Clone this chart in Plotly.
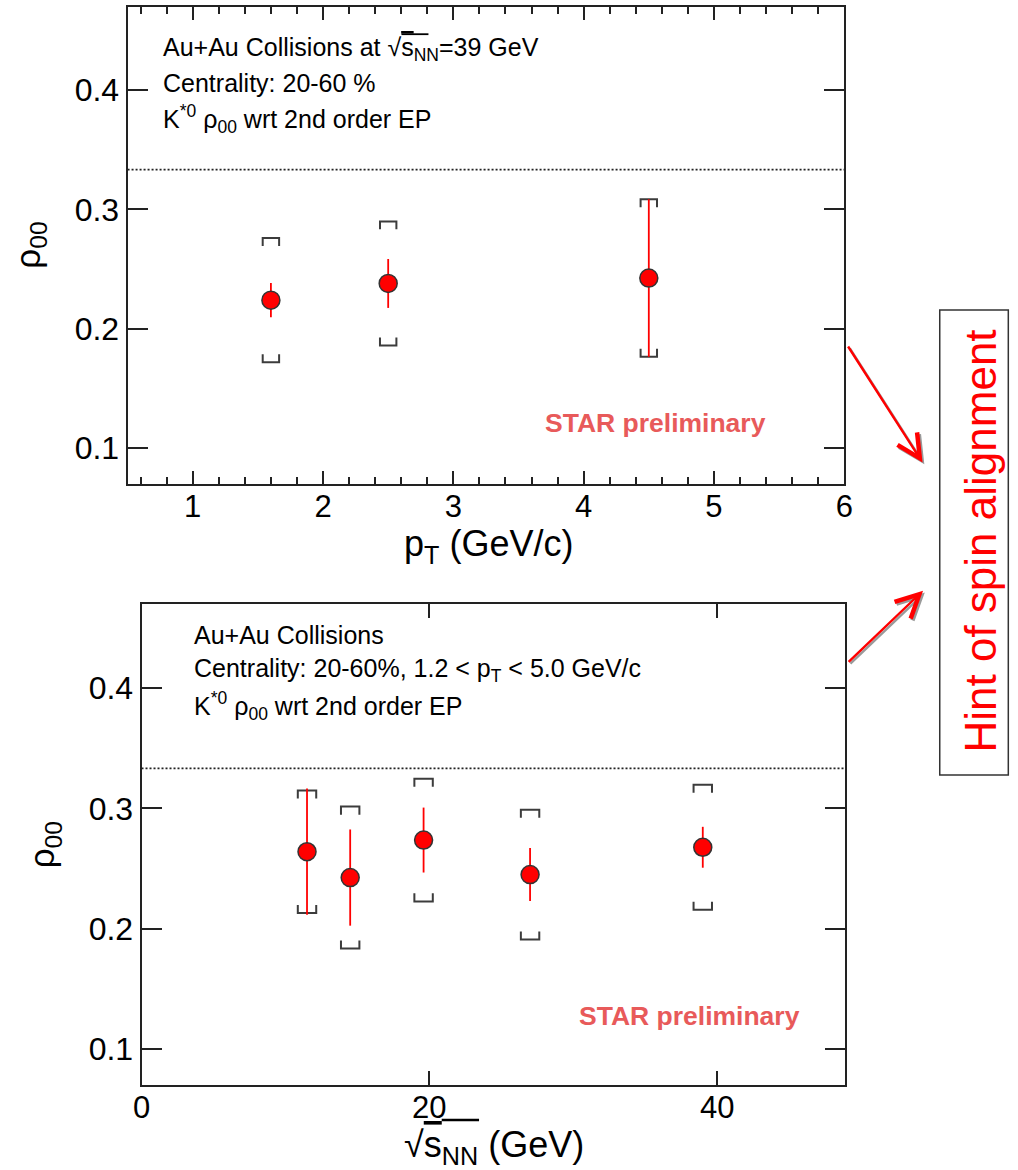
import plotly.graph_objects as go

W, H = 1018, 1170

# rho_00 of K*0 versus transverse momentum, Au+Au at 39 GeV
pt = [1.6, 2.5, 4.5]
rho_pt = [0.224, 0.238, 0.2425]
stat_pt = [0.0143, 0.0205, 0.066]
sys_pt = [0.052, 0.052, 0.066]

# rho_00 of K*0 versus collision energy
energy = [11.5, 14.5, 19.6, 27.0, 39.0]
rho_e = [0.264, 0.2425, 0.2737, 0.245, 0.2677]
stat_e = [0.0525, 0.040, 0.027, 0.022, 0.017]
sys_e = [0.051, 0.059, 0.051, 0.054, 0.052]

rho_ticks = [0.1, 0.2, 0.3, 0.4]
pt_ticks = [1, 2, 3, 4, 5, 6]
energy_ticks = [0, 20, 40]
no_alignment = 1.0 / 3.0

FONT = "Liberation Sans, Arial, Helvetica, sans-serif"
FRAME = "#222222"
RED = "#ff0000"
STAR_RED = "#e85a5a"
SYS_GREY = "#3c3c3c"

# plot-area boxes in pixels: (left, right, top, bottom)
TOP_BOX = (120.7, 850.3, 6.5, 484.0)
BOT_BOX = (134.9, 851.3, 604.0, 1085.0)


def fx(px):
    return px / W


def fy(py):
    return 1.0 - py / H


def sys_brackets(xs, ys, errs, half_w, leg):
    """Square brackets above and below each point for systematic errors."""
    bx, by = [], []
    for x, y, e in zip(xs, ys, errs):
        top, bot = y + e, y - e
        bx += [x - half_w, x - half_w, x + half_w, x + half_w, None]
        by += [top - leg, top, top, top - leg, None]
        bx += [x - half_w, x - half_w, x + half_w, x + half_w, None]
        by += [bot + leg, bot, bot, bot + leg, None]
    return bx, by


fig = go.Figure()


def add_panel(xs, ys, stat, sys, half_w, leg, xa, ya):
    bx, by = sys_brackets(xs, ys, sys, half_w, leg)
    fig.add_trace(go.Scatter(
        x=bx, y=by, mode="lines", xaxis=xa, yaxis=ya,
        line=dict(color=SYS_GREY, width=2), hoverinfo="skip"))
    fig.add_trace(go.Scatter(
        x=xs, y=ys, mode="markers", xaxis=xa, yaxis=ya,
        error_y=dict(type="data", array=stat, color=RED, thickness=1.8, width=0),
        marker=dict(symbol="circle", size=18, color=RED,
                    line=dict(color="#333333", width=1.5))))


add_panel(pt, rho_pt, stat_pt, sys_pt, 0.063, 0.0067, "x", "y")
add_panel(energy, rho_e, stat_e, sys_e, 0.64, 0.0067, "x2", "y2")

# dotted reference line at rho_00 = 1/3
for xr, yr in (("x domain", "y"), ("x2 domain", "y2")):
    fig.add_shape(type="line", xref=xr, yref=yr, x0=0, x1=1,
                  y0=no_alignment, y1=no_alignment,
                  line=dict(color="#222222", width=1.8, dash="2px,2px"))

axis_common = dict(
    showline=True, linewidth=2, linecolor=FRAME, mirror="ticks",
    ticks="inside", tickcolor=FRAME, tickwidth=2,
    showgrid=False, zeroline=False,
    tickfont=dict(family=FONT, size=31, color="black"),
)
minor_pt = dict(dtick=0.2, tick0=0, ticks="inside", ticklen=7,
                tickwidth=1.5, tickcolor=FRAME)

top_x_domain = [fx(TOP_BOX[0]), fx(TOP_BOX[1])]

fig.update_layout(
    width=W, height=H,
    margin=dict(l=0, r=0, t=0, b=0),
    paper_bgcolor="white", plot_bgcolor="white",
    showlegend=False,
    font=dict(family=FONT, color="black"),
    xaxis=dict(axis_common, domain=top_x_domain,
               range=[0.5, 6.0], tickvals=pt_ticks, ticklen=13,
               ticklabelstandoff=-6, anchor="y", minor=minor_pt),
    # upper edge of the pT frame carries the same major and minor ticks
    xaxis3=dict(domain=top_x_domain, range=[0.5, 6.0], overlaying="x",
                side="top", anchor="y", tickvals=pt_ticks, ticks="inside",
                ticklen=13, tickwidth=2, tickcolor=FRAME, minor=minor_pt,
                showticklabels=False, showline=False, showgrid=False,
                zeroline=False),
    yaxis=dict(axis_common, domain=[fy(TOP_BOX[3]), fy(TOP_BOX[2])],
               range=[0.07, 0.47], tickvals=rho_ticks, tickformat=".1f",
               ticklen=20, ticklabelstandoff=0, anchor="x",
               tickfont=dict(family=FONT, size=32, color="black")),
    xaxis2=dict(axis_common, domain=[fx(BOT_BOX[0]), fx(BOT_BOX[1])],
                range=[0.0, 48.9], tickvals=energy_ticks, ticklen=14,
                ticklabelstandoff=-6, anchor="y2"),
    yaxis2=dict(axis_common, domain=[fy(BOT_BOX[3]), fy(BOT_BOX[2])],
                range=[0.07, 0.47], tickvals=rho_ticks, tickformat=".1f",
                ticklen=20, ticklabelstandoff=0, anchor="x2",
                tickfont=dict(family=FONT, size=32, color="black")),
)

SQRT_S = "√<span style='text-decoration:overline'>s</span><sub>NN</sub>"


def text(x, y, s, size, color="black", xanchor="left", angle=0, bold=False):
    if bold:
        s = "<b>" + s + "</b>"
    fig.add_annotation(x=fx(x), y=fy(y), xref="paper", yref="paper",
                       text=s, showarrow=False, xanchor=xanchor,
                       yanchor="middle", textangle=angle,
                       font=dict(family=FONT, size=size, color=color))


def vinculum(x0, x1, y, width):
    """Continue the square-root bar over the NN subscript."""
    fig.add_shape(type="line", xref="paper", yref="paper",
                  x0=fx(x0), x1=fx(x1), y0=fy(y), y1=fy(y),
                  line=dict(color="black", width=width))


# top panel labels
text(154.5, 49, "Au+Au Collisions at " + SQRT_S + "=39 GeV", 25)
vinculum(399.5, 427.0, 34.2, 1.8)
text(154.5, 83, "Centrality: 20-60 %", 25)
text(154.5, 119, "K<sup>*0</sup> ρ<sub>00</sub> wrt 2nd order EP", 25)
text(543.5, 423, "STAR preliminary", 26.5, STAR_RED, bold=True)
text(487.7, 545.5, "p<sub>T</sub> (GeV/c)", 36, xanchor="center")
text(21, 245, "ρ<sub>00</sub>", 35, xanchor="center", angle=-90)

# bottom panel labels
text(186.5, 635, "Au+Au Collisions", 25)
text(186.5, 670, "Centrality: 20-60%, 1.2 &lt; p<sub>T</sub> &lt; 5.0 GeV/c", 25)
text(186.5, 706, "K<sup>*0</sup> ρ<sub>00</sub> wrt 2nd order EP", 25)
text(578, 1016, "STAR preliminary", 26.5, STAR_RED, bold=True)
text(493.7, 1147, SQRT_S + " (GeV)", 36, xanchor="center")
vinculum(440.5, 478.5, 1120.0, 2.4)
text(36, 845, "ρ<sub>00</sub>", 35, xanchor="center", angle=-90)

# side note box
fig.add_shape(type="rect", xref="paper", yref="paper",
              x0=fx(947.5), x1=fx(1017.3), y0=fy(775), y1=fy(310),
              line=dict(color="#333333", width=1.5), fillcolor="white")
text(988.5, 541.5, "Hint of spin alignment", 44, RED, xanchor="center", angle=-90)

# arrows pointing from both panels to the note (grey shadow under red)
arrows = [((854.6, 345.0), (930.0, 462.5)), ((854.6, 663.3), (930.5, 590.7))]
for (tx, ty), (hx, hy) in arrows:
    for dx, col in ((1.8, "#9a9a9a"), (0.0, RED)):
        fig.add_annotation(x=fx(hx + dx), y=fy(hy + dx), xref="paper", yref="paper",
                           ax=tx - hx, ay=ty - hy, axref="pixel", ayref="pixel",
                           text="", showarrow=True, arrowhead=5, arrowsize=1.9,
                           arrowwidth=2.4, arrowcolor=col, standoff=0)

fig.write_html("out.html")
